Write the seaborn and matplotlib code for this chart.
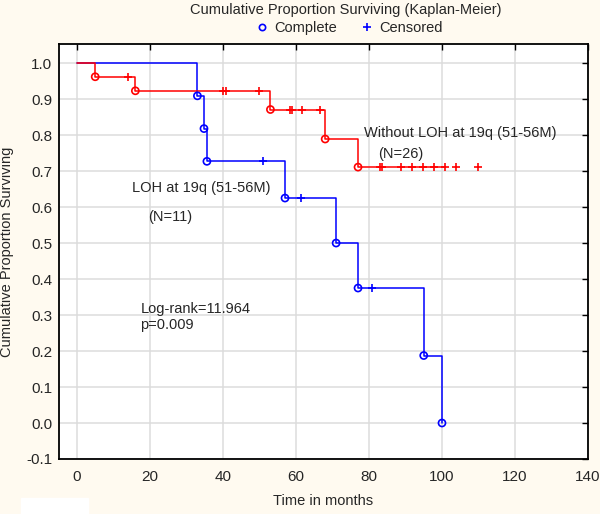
import pandas as pd
import seaborn as sns
import matplotlib.pyplot as plt
from matplotlib.lines import Line2D
from matplotlib.patches import Rectangle

# DATA
# Without LOH at 19q (N=26)
red_step_t = [0, 5, 16, 53, 68, 77, 100.8]
red_step_s = [1.0, 0.962, 0.923, 0.871, 0.789, 0.711, 0.711]
red_event_t = [5, 16, 53, 68, 77]
red_event_s = [0.962, 0.923, 0.871, 0.789, 0.711]
red_cens_t = [13.9, 40.0, 40.8, 49.8, 58.3, 59.0, 61.7, 66.7,
              83.0, 83.7, 88.7, 91.7, 94.9, 97.8, 100.8, 103.8, 109.9]
red_cens_s = [0.962, 0.923, 0.923, 0.923, 0.871, 0.871, 0.871, 0.871,
              0.711, 0.711, 0.711, 0.711, 0.711, 0.711, 0.711, 0.711, 0.711]

# LOH at 19q (N=11)
blue_step_t = [0, 33, 34.8, 35.6, 57, 71, 77, 95, 100]
blue_step_s = [1.0, 0.909, 0.818, 0.727, 0.625, 0.5, 0.375, 0.1875, 0.0]
blue_event_t = [33, 34.8, 35.6, 57, 71, 77, 95, 100]
blue_event_s = [0.909, 0.818, 0.727, 0.625, 0.5, 0.375, 0.1875, 0.0]
blue_cens_t = [51.0, 61.3, 80.9]
blue_cens_s = [0.727, 0.625, 0.375]

x_ticks = [0, 20, 40, 60, 80, 100, 120, 140]
y_ticks = [-0.1, 0.0, 0.1, 0.2, 0.3, 0.4, 0.5, 0.6, 0.7, 0.8, 0.9, 1.0]

# STYLE
sns.set_style("whitegrid", {"axes.edgecolor": "black", "grid.color": "#dcdcdc"})
plt.rcParams['font.family'] = ['Liberation Sans', 'DejaVu Sans']
plt.rcParams['font.size'] = 10.5

bg = "#fffaf0"
fig = plt.figure(figsize=(6, 5.14), dpi=100, facecolor=bg)
ax = fig.add_axes([58.7 / 600, 1 - 459 / 514, (588 - 58.7) / 600, (459 - 44) / 514])
ax.set_facecolor("white")

blue_df = pd.DataFrame({"t": blue_step_t, "s": blue_step_s})
red_df = pd.DataFrame({"t": red_step_t, "s": red_step_s})

# step curves
sns.lineplot(data=blue_df, x="t", y="s", ax=ax, color="blue", linewidth=1.1,
             drawstyle="steps-post", estimator=None, sort=False, zorder=3)
sns.lineplot(data=red_df, x="t", y="s", ax=ax, color="red", linewidth=1.1,
             drawstyle="steps-post", estimator=None, sort=False, zorder=4)

# complete (o) and censored (+) markers
sns.scatterplot(x=blue_event_t, y=blue_event_s, ax=ax, marker="o", s=26,
                facecolor="none", edgecolor="blue", linewidth=1.2, zorder=5)
sns.scatterplot(x=blue_cens_t, y=blue_cens_s, ax=ax, marker="+", s=40,
                color="blue", linewidth=1.2, zorder=5)
sns.scatterplot(x=red_event_t, y=red_event_s, ax=ax, marker="o", s=26,
                facecolor="none", edgecolor="red", linewidth=1.2, zorder=6)
sns.scatterplot(x=red_cens_t, y=red_cens_s, ax=ax, marker="+", s=40,
                color="red", linewidth=1.2, zorder=6)

ax.set_xlim(-5, 140)
ax.set_ylim(-0.1, 1.053)
ax.set_xticks(x_ticks)
ax.set_yticks(y_ticks)
ax.set_yticklabels([f"{v:.1f}" for v in y_ticks])
ax.grid(True, color="#dcdcdc", linewidth=1.1)
ax.tick_params(axis="both", direction="in", length=4, width=1, color="black",
               top=True, right=True, labelsize=11)
ax.tick_params(axis="x", pad=8)
ax.tick_params(axis="y", pad=4.5)
for sp in ax.spines.values():
    sp.set_linewidth(1.3)
    sp.set_color("black")

ax.set_xlabel("Time in months", fontsize=10.5, labelpad=7)
ax.set_ylabel("Cumulative Proportion Surviving", fontsize=10.5, labelpad=9)

# annotations
ax.text(78.5, 0.806, "Without LOH at 19q (51-56M)", va="center", ha="left", fontsize=10.5)
ax.text(82.6, 0.747, "(N=26)", va="center", ha="left", fontsize=10.5)
ax.text(15.0, 0.652, "LOH at 19q (51-56M)", va="center", ha="left", fontsize=10.5)
ax.text(19.4, 0.573, "(N=11)", va="center", ha="left", fontsize=10.5)
ax.text(17.4, 0.318, "Log-rank=11.964", va="center", ha="left", fontsize=10.5)
ax.text(17.4, 0.272, "p=0.009", va="center", ha="left", fontsize=10.5)

# title and legend
fig.text(0.577, 0.981, "Cumulative Proportion Surviving (Kaplan-Meier)",
         ha="center", va="center", fontsize=10.5)
handles = [Line2D([], [], linestyle="none", marker="o", markersize=4.5,
                  markerfacecolor="none", markeredgecolor="blue", markeredgewidth=1.2),
           Line2D([], [], linestyle="none", marker="+", markersize=5.5,
                  color="blue", markeredgewidth=1.2)]
fig.legend(handles, ["Complete", "Censored"], loc="center", ncol=2,
           bbox_to_anchor=(0.58, 0.945), frameon=False, fontsize=10.5,
           handletextpad=0.3, columnspacing=1.4, handlelength=1.2)

# white patch in the lower left corner of the reference
fig.add_artist(Rectangle((21 / 600, 0), 67 / 600, 16 / 514,
                         transform=fig.transFigure, color="white", zorder=10))

plt.savefig("out.png", dpi=100, facecolor=bg)
plt.close()
